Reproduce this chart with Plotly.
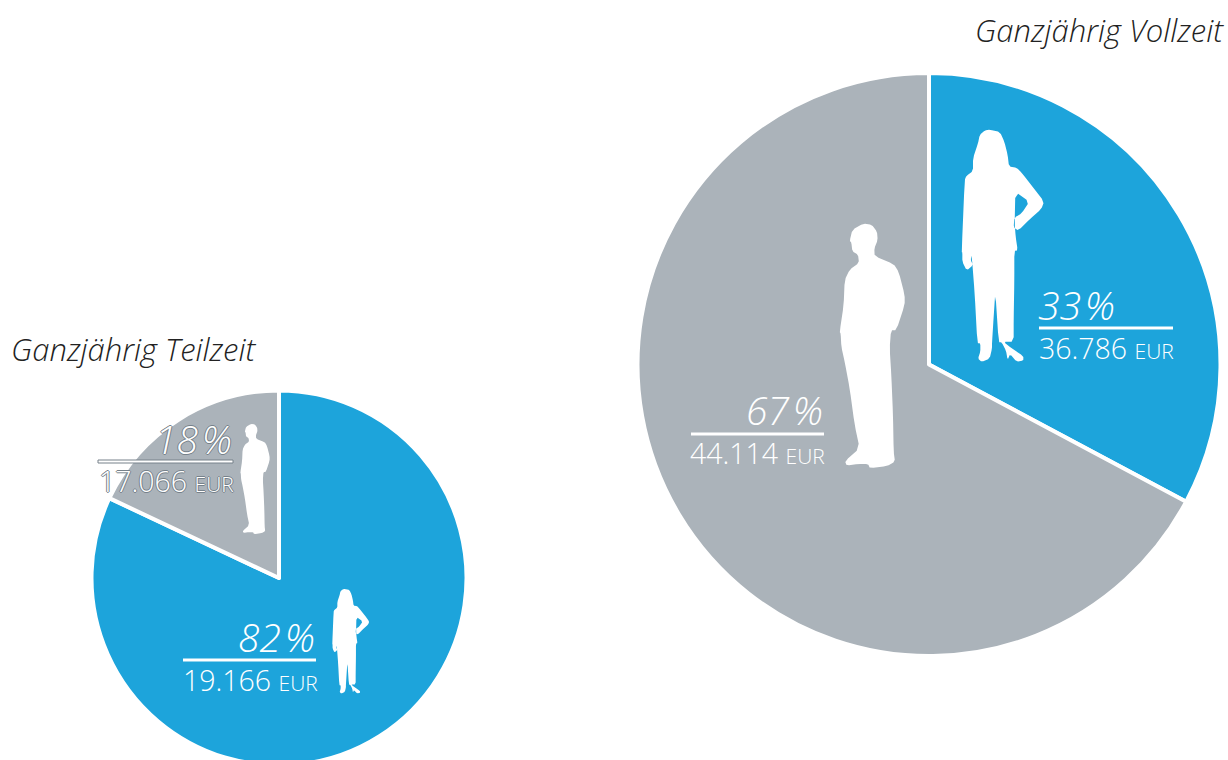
import plotly.graph_objects as go

W, H = 1228, 770
BLUE, GRAY = "#1DA4DB", "#ABB3BA"
OUT = "#76818a"

categories = ["Frauen", "Männer"]
vollzeit_values = [32.8, 67.2]
teilzeit_values = [82, 18]
vollzeit_colors = [BLUE, GRAY]
teilzeit_colors = [BLUE, GRAY]
titles = ["Ganzjährig Vollzeit", "Ganzjährig Teilzeit"]
pct_labels = ["33\u200a%", "67\u200a%", "18\u200a%", "82\u200a%"]
eur_labels = ["36.786", "44.114", "17.066", "19.166"]

WOMAN = [(120,29),(150,36),(163,65),(173,105),(177,140),(200,143),(215,158),(250,203),(282,245),(274,267),(240,297),(205,332),(191,322),(193,293),(215,280),(238,245),(196,215),(194,310),(197,350),(203,391),(193,393),(193,480),(191,600),(191,665),(160,665),(185,685),(220,708),(220,722),(200,725),(180,702),(173,720),(168,692),(155,667),(146,667),(136,515),(131,590),(126,670),(126,685),(119,716),(95,726),(84,716),(91,695),(91,670),(82,670),(74,520),(65,404),(62,420),(69,435),(50,452),(37,425),(37,397),(35,397),(44,180),(49,168),(69,153),(69,115),(84,70),(89,45),(105,31)]
MAN = [(100,26),(125,29),(141,50),(143,75),(133,100),(134,124),(191,147),(206,170),(224,240),(224,270),(199,346),(183,346),(179,400),(184,480),(189,600),(191,710),(195,740),(171,753),(120,760),(114,747),(85,747),(50,752),(45,738),(89,700),(74,630),(59,520),(44,440),(34,395),(32,356),(29,351),(41,270),(44,195),(59,164),(87,144),(84,119),(67,109),(64,82),(59,78),(67,44)]


def px(x): return x / W
def py(y): return 1 - y / H


def dom(cx, cy, r):
    return dict(x=[px(cx - r), px(cx + r)], y=[py(cy + r), py(cy - r)])


def chaikin(pts):
    out = []
    n = len(pts)
    for i in range(n):
        a, b = pts[i], pts[(i + 1) % n]
        out.append((a[0] * .8 + b[0] * .2, a[1] * .8 + b[1] * .2))
        out.append((a[0] * .2 + b[0] * .8, a[1] * .2 + b[1] * .8))
    return out


def silhouette(pts, ox, oy, s):
    d = "M" + " L".join(f"{px(ox + x * s):.5f},{py(oy + y * s):.5f}" for x, y in chaikin(pts)) + " Z"
    return dict(type="path", path=d, xref="paper", yref="paper", fillcolor="white", line=dict(width=0), layer="above")


def rule(x0, x1, y, outlined=False):
    return dict(type="rect", xref="paper", yref="paper", x0=px(x0), x1=px(x1), y0=py(y + 1.5), y1=py(y - 1.5),
                fillcolor="white", line=dict(width=1 if outlined else 0, color=OUT), layer="above")


fig = go.Figure()
for vals, cols, d in [(vollzeit_values, vollzeit_colors, dom(929, 364.5, 291.5)),
                      (teilzeit_values, teilzeit_colors, dom(279, 578, 187.5))]:
    fig.add_trace(go.Pie(labels=categories, values=vals, sort=False, direction="clockwise", rotation=0,
                         domain=d, textinfo="none", hoverinfo="skip", showlegend=False,
                         marker=dict(colors=cols, line=dict(color="white", width=4))))

shapes = [
    silhouette(WOMAN, 950, 120, 1 / 3),
    silhouette(MAN, 830, 215, 1 / 3),
    silhouette(WOMAN, 345 - 120 * 0.15, 589 - 29 * 0.15, 0.15),
    silhouette(MAN, 251 - 100 * 0.15, 424 - 26 * 0.15, 0.15),
    rule(1039, 1173, 328), rule(691, 824, 434), rule(98, 233, 461.5, True), rule(183, 316, 660),
]

FONT = "Open Sans"
ann = []


def label(text, x, y, size, anchor="right", italic=False, color="white", shadow=None):
    f = dict(family=FONT, size=size, color=color, weight=300, style="italic" if italic else "normal")
    if shadow:
        f["shadow"] = shadow
    ann.append(dict(text=text, x=px(x), y=py(y), xref="paper", yref="paper", xanchor=anchor, yanchor="middle",
                    showarrow=False, font=f, borderpad=0))


SH = f"1px 0 0 {OUT}, -1px 0 0 {OUT}, 0 1px 0 {OUT}, 0 -1px 0 {OUT}"
label(titles[0], 1225, 30, 31, italic=True, color="#222222")
label(titles[1], 10, 349, 31, anchor="left", italic=True, color="#222222")
pos = [(1116, 304, 348, 1175, None), (824, 410, 453, 826, None), (233, 438, 481, 235, SH), (316, 636, 680, 319, None)]
for (xp, yp, ye, xe, sh), p, e in zip(pos, pct_labels, eur_labels):
    label(p, xp, yp, 39, italic=True, shadow=sh)
    label(f'{e} <span style="font-size:21px">EUR</span>', xe, ye, 28.5, shadow=sh)

fig.update_layout(width=W, height=H, margin=dict(l=0, r=0, t=0, b=0), paper_bgcolor="white",
                  shapes=shapes, annotations=ann, showlegend=False)
fig.write_html("out.html", post_script="document.body.style.margin='0';document.documentElement.style.overflow='hidden';document.body.style.overflow='hidden';", config={"displayModeBar": False})
